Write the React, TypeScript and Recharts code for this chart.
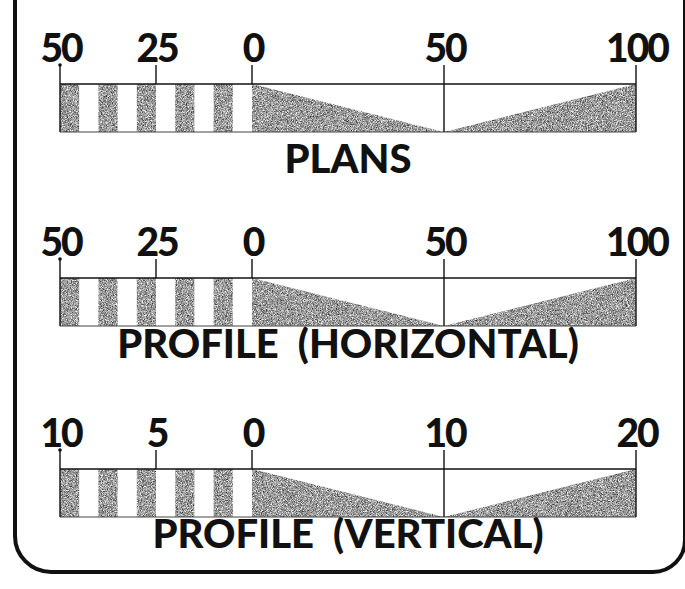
import { Area, ComposedChart, ReferenceArea, ReferenceLine, XAxis, YAxis } from "recharts";

// plans + horizontal profile: 50 ... 0 ... 100
const planTicks = [-50, -25, 0, 50, 100];
const planStripeStarts = [-50, -40, -30, -20, -10];
const planStripeWidth = 5;
const planWedge = [
  { x: 0, depth: 1 },
  { x: 50, depth: 0 },
  { x: 100, depth: 1 },
];

// vertical profile: 10 ... 0 ... 20
const verticalTicks = [-10, -5, 0, 10, 20];
const verticalStripeStarts = [-10, -8, -6, -4, -2];
const verticalStripeWidth = 1;
const verticalWedge = [
  { x: 0, depth: 1 },
  { x: 10, depth: 0 },
  { x: 20, depth: 1 },
];

const titles = ["PLANS", "PROFILE  (HORIZONTAL)", "PROFILE  (VERTICAL)"];

const scales = [
  { title: titles[0], ticks: planTicks, starts: planStripeStarts, width: planStripeWidth, wedge: planWedge },
  { title: titles[1], ticks: planTicks, starts: planStripeStarts, width: planStripeWidth, wedge: planWedge },
  { title: titles[2], ticks: verticalTicks, starts: verticalStripeStarts, width: verticalStripeWidth, wedge: verticalWedge },
];

// layout only
const BAR_TOPS = [84, 278, 469];
const TITLE_BASELINES = [179, 170, 169];
const CHART_H = 190;
const ABOVE = 90;
const BAR_H = 48;
const INK = "#111";
const FONT = "Lato, 'DejaVu Sans', sans-serif";

function ScaleTick(props: any) {
  const { x, y, payload, full, first } = props;
  return (
    <g>
      <line x1={x} x2={x} y1={y - 19} y2={full ? y + BAR_H : y} stroke={INK} strokeWidth={1.4} />
      {first && <circle cx={x} cy={y - 19} r={1.8} fill={INK} />}
      <text
        x={x + 1}
        y={y - 22}
        textAnchor="middle"
        fontFamily={FONT}
        fontWeight={900}
        fontSize={39}
        letterSpacing={-2}
        fill={INK}
      >
        {Math.abs(payload.value)}
      </text>
    </g>
  );
}

function ScaleBar({ index }: { index: number }) {
  const s = scales[index];
  const lo = s.ticks[0];
  const hi = s.ticks[s.ticks.length - 1];
  const full = [lo, s.ticks[3], hi];
  const gid = `grain-${index}`;
  const nid = `noise-${index}`;
  return (
    <div style={{ position: "absolute", left: 0, top: BAR_TOPS[index] - ABOVE }}>
      <ComposedChart
        width={685}
        height={CHART_H}
        data={s.wedge}
        margin={{ top: ABOVE - 30, right: 49, bottom: CHART_H - ABOVE - BAR_H, left: 60 }}
      >
        <defs>
          <filter id={nid} x="0" y="0" width="100%" height="100%" colorInterpolationFilters="sRGB">
            <feTurbulence type="fractalNoise" baseFrequency="1.2" numOctaves={2} seed={index + 3} />
            <feColorMatrix
              type="matrix"
              values="1.3 0 0 0 -0.04  1.3 0 0 0 -0.04  1.3 0 0 0 -0.04  0 0 0 0 1"
            />
          </filter>
          <pattern id={gid} patternUnits="userSpaceOnUse" width={700} height={200}>
            <rect width={700} height={200} fill="#8c8c8c" filter={`url(#${nid})`} />
          </pattern>
        </defs>
        <XAxis
          dataKey="x"
          type="number"
          orientation="top"
          domain={[lo, hi]}
          ticks={s.ticks}
          interval={0}
          height={30}
          tickSize={0}
          tickMargin={0}
          tickLine={false}
          axisLine={{ stroke: INK, strokeWidth: 1.6 }}
          tick={(p: any) => (
            <ScaleTick {...p} full={full.includes(p.payload.value)} first={p.payload.value === lo} />
          )}
        />
        <YAxis hide domain={[0, 1]} />
        {s.starts.map((st) => (
          <ReferenceArea
            key={st}
            x1={st}
            x2={st + s.width}
            y1={0}
            y2={1}
            fill={`url(#${gid})`}
            fillOpacity={1}
            stroke="none"
          />
        ))}
        <Area
          dataKey="depth"
          type="linear"
          stroke="none"
          fill={`url(#${gid})`}
          fillOpacity={1}
          baseValue={0}
          isAnimationActive={false}
          dot={false}
          activeDot={false}
        />
        <ReferenceLine y={0} stroke="#444" strokeWidth={1.2} />
        <text
          x={348}
          y={TITLE_BASELINES[index]}
          textAnchor="middle"
          fontFamily={FONT}
          fontWeight={900}
          fontSize={40}
          fill={INK}
          style={{ whiteSpace: "pre" }}
        >
          {s.title}
        </text>
      </ComposedChart>
    </div>
  );
}

export default function App() {
  return (
    <div
      style={{
        position: "absolute",
        left: 0,
        top: 0,
        width: 685,
        height: 589,
        overflow: "hidden",
        background: "#fff",
      }}
    >
      <div
        style={{
          position: "absolute",
          left: 13,
          top: -40,
          width: 666,
          height: 606,
          border: `4px solid ${INK}`,
          borderBottomLeftRadius: 38,
          borderBottomRightRadius: 34,
        }}
      />
      {scales.map((_, i) => (
        <ScaleBar key={i} index={i} />
      ))}
    </div>
  );
}
